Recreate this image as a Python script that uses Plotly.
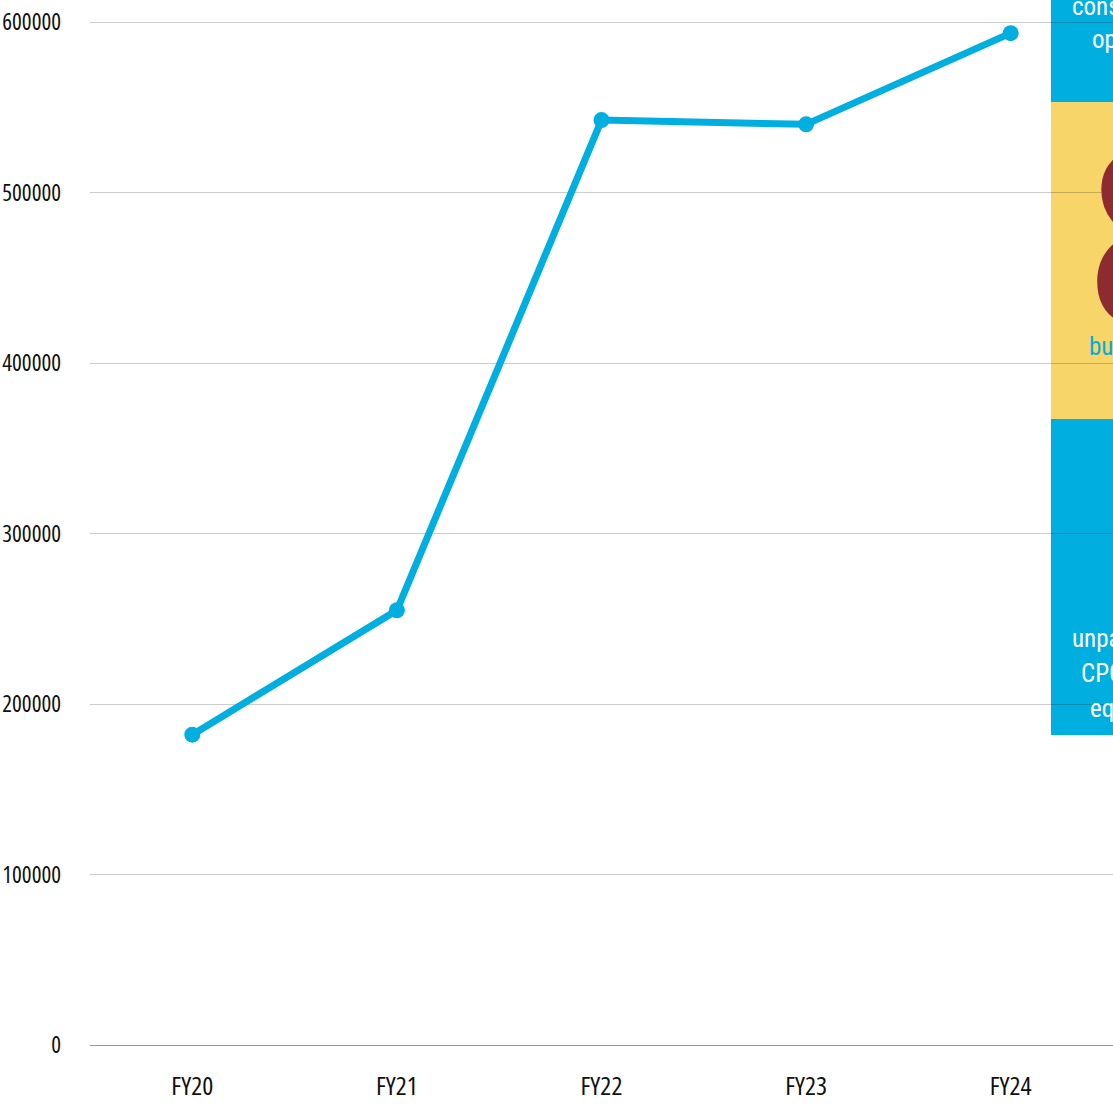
import plotly.graph_objects as go

# --- data ---
years = ["FY20", "FY21", "FY22", "FY23", "FY24"]
values = [182000, 255000, 542500, 540000, 593500]
y_ticks = [0, 100000, 200000, 300000, 400000, 500000, 600000]

LINE_BLUE = "#00AEDF"
PANEL_YELLOW = "#F8D568"
DARK_RED = "#8E2B31"
TICK_FONT = "Open Sans, sans-serif"

fig = go.Figure()

fig.add_trace(go.Scatter(
    x=years,
    y=values,
    mode="lines+markers",
    line=dict(color=LINE_BLUE, width=7),
    marker=dict(color=LINE_BLUE, size=16),
    hoverinfo="skip",
    showlegend=False,
))

# side panels overlapping the right edge of the chart (page sidebar)
panels = [
    (0.2981, 0.6019, LINE_BLUE),
    (0.6019, 0.9067, PANEL_YELLOW),
    (0.9067, 1.02, LINE_BLUE),
]
for y0, y1, col in panels:
    fig.add_shape(type="rect", xref="paper", yref="paper",
                  x0=0.9394, x1=1.05, y0=y0, y1=y1,
                  fillcolor=col, line=dict(width=0), layer="below")

panel_text = [
    ("consumer", 0.9580, 0.9985, "white"),
    ("operations", 0.9775, 0.9665, "white"),
    ("business", 0.9746, 0.6720, LINE_BLUE),
    ("unpaid", 0.9580, 0.3905, "white"),
    ("CPC", 0.9668, 0.3575, "white"),
    ("equity", 0.9756, 0.3240, "white"),
]
for txt, x, y, col in panel_text:
    fig.add_annotation(text=txt, xref="paper", yref="paper", x=x, y=y,
                       xanchor="left", yanchor="middle", align="left",
                       showarrow=False,
                       font=dict(family="Roboto", size=25, color=col))

fig.add_annotation(text="8", xref="paper", yref="paper", x=0.9746, y=0.783,
                   xanchor="left", yanchor="middle", align="left",
                   showarrow=False,
                   font=dict(family=TICK_FONT, size=240, color=DARK_RED))

fig.update_layout(
    width=1113,
    height=1106,
    margin=dict(l=90, r=0, t=5, b=61),
    paper_bgcolor="white",
    plot_bgcolor="rgba(0,0,0,0)",
    showlegend=False,
    hovermode=False,
)

fig.update_xaxes(
    type="category",
    range=[-0.5, 4.5],
    automargin=False,
    showgrid=False,
    showline=True,
    linecolor="#9a9a9a",
    linewidth=1,
    ticks="",
    ticklabelstandoff=18,
    tickfont=dict(family=TICK_FONT, size=26, color="#111"),
)
fig.update_yaxes(
    range=[0, 610000],
    automargin=False,
    tickvals=y_ticks,
    ticktext=[str(v) for v in y_ticks],
    showgrid=True,
    gridcolor="rgba(0,0,0,0.2)",
    gridwidth=1,
    zeroline=False,
    showline=False,
    ticks="",
    ticklabelstandoff=28,
    tickfont=dict(family=TICK_FONT, size=23, color="#111"),
)

page_fix = """
document.body.style.margin = '0';
document.body.style.overflow = 'hidden';
var st = document.createElement('style');
st.textContent = '.xtick text, .ytick text, .annotation-text {font-stretch: 62.5% !important;}';
document.head.appendChild(st);
"""

fig.write_html("out.html", post_script=page_fix, config={"displayModeBar": False})
